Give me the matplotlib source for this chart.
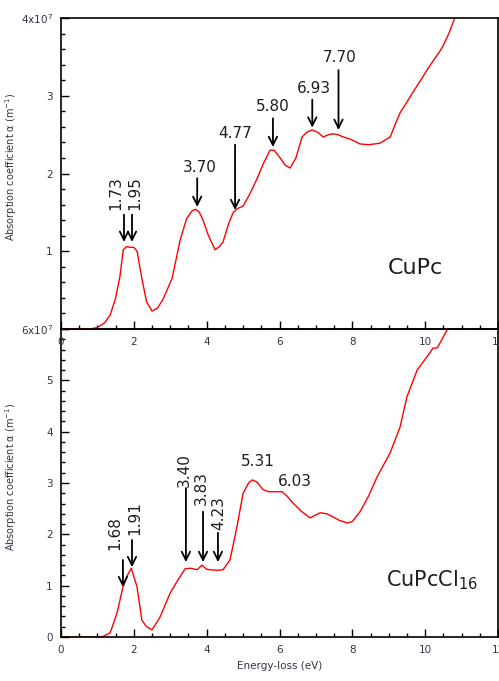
import matplotlib
matplotlib.use("Agg")
import matplotlib.pyplot as plt
from matplotlib.ticker import MultipleLocator, FixedLocator, FixedFormatter

# ---- data: CuPc (top panel), units of 1e7 m^-1 ----
cupc_x = [0, 0.5, 0.8, 1.0, 1.2, 1.35, 1.5, 1.62, 1.71, 1.8, 1.9, 2.0, 2.09, 2.22,
          2.35, 2.5, 2.65, 2.8, 3.05, 3.27, 3.45, 3.6, 3.7, 3.8, 3.9, 4.05, 4.23,
          4.35, 4.45, 4.6, 4.73, 4.85, 5.0, 5.2, 5.38, 5.55, 5.74, 5.85, 6.02, 6.15,
          6.29, 6.45, 6.62, 6.75, 6.9, 7.05, 7.2, 7.35, 7.47, 7.6, 7.75, 7.95, 8.21,
          8.45, 8.76, 9.04, 9.15, 9.31, 9.5, 9.67, 9.85, 10.05, 10.25, 10.4, 10.5,
          10.65, 10.77, 10.9]
cupc_y = [0, 0, 0.0, 0.02, 0.08, 0.18, 0.4, 0.68, 1.02, 1.06, 1.05, 1.05, 1.0, 0.65,
          0.35, 0.23, 0.27, 0.38, 0.65, 1.14, 1.42, 1.52, 1.54, 1.5, 1.40, 1.2, 1.02,
          1.06, 1.12, 1.35, 1.5, 1.55, 1.58, 1.75, 1.93, 2.12, 2.30, 2.3, 2.2, 2.11,
          2.07, 2.2, 2.47, 2.53, 2.56, 2.53, 2.47, 2.5, 2.51, 2.5, 2.47, 2.44, 2.38,
          2.37, 2.39, 2.47, 2.6, 2.78, 2.92, 3.05, 3.18, 3.33, 3.47, 3.57, 3.65,
          3.8, 3.95, 4.1]

# ---- data: CuPcCl16 (bottom panel) ----
cl_x = [0, 0.5, 1.0, 1.15, 1.35, 1.54, 1.70, 1.82, 1.93, 2.09, 2.22, 2.35, 2.5, 2.72,
        3.0, 3.2, 3.41, 3.55, 3.74, 3.87, 4.0, 4.1, 4.3, 4.45, 4.64, 4.83, 5.0, 5.15,
        5.25, 5.38, 5.55, 5.7, 5.82, 6.07, 6.2, 6.37, 6.6, 6.84, 7.0, 7.12, 7.3, 7.47,
        7.65, 7.86, 8.0, 8.21, 8.45, 8.68, 9.04, 9.31, 9.5, 9.78, 10.05, 10.22, 10.33,
        10.5, 10.6, 10.75]
cl_y = [0, 0, 0, 0.01, 0.08, 0.47, 0.97, 1.2, 1.34, 0.97, 0.33, 0.2, 0.14, 0.39,
        0.86, 1.1, 1.33, 1.34, 1.31, 1.40, 1.32, 1.31, 1.30, 1.31, 1.5, 2.14, 2.8, 3.0,
        3.06, 3.02, 2.87, 2.83, 2.83, 2.83, 2.75, 2.61, 2.45, 2.32, 2.38, 2.42, 2.40,
        2.34, 2.27, 2.22, 2.25, 2.44, 2.75, 3.12, 3.59, 4.09, 4.68, 5.20, 5.46, 5.63,
        5.63, 5.85, 5.98, 6.2]

# peak annotations: label, arrow x, tail y, tip y, label x, label y, rotation
top_peaks = [("1.73", 1.73, 1.47, 1.12, 1.51, 1.53, 90),
             ("1.95", 1.95, 1.47, 1.12, 2.03, 1.53, 90),
             ("3.70", 3.74, 1.94, 1.57, 3.82, 1.98, 0),
             ("4.77", 4.78, 2.37, 1.53, 4.78, 2.42, 0),
             ("5.80", 5.82, 2.71, 2.34, 5.82, 2.76, 0),
             ("6.93", 6.90, 2.95, 2.59, 6.95, 3.0, 0),
             ("7.70", 7.62, 3.33, 2.56, 7.66, 3.39, 0)]
bot_peaks = [("1.68", 1.70, 1.50, 0.97, 1.48, 1.70, 90),
             ("1.91", 1.95, 1.89, 1.36, 2.04, 1.99, 90),
             ("3.40", 3.43, 2.90, 1.46, 3.38, 2.92, 90),
             ("3.83", 3.90, 2.44, 1.46, 3.85, 2.57, 90),
             ("4.23", 4.31, 2.03, 1.46, 4.34, 2.09, 90)]
bot_labels = [("5.31", 5.41, 3.41), ("6.03", 6.43, 3.02)]

W, H = 499, 681
fig = plt.figure(figsize=(W / 100, H / 100), dpi=100)
left = 61 / W
width = (498 - 61) / W
ax1 = fig.add_axes([left, 1 - 329 / H, width, (329 - 18) / H])
ax2 = fig.add_axes([left, 1 - 637 / H, width, (637 - 329) / H])
ax1.set_zorder(3)
ax1.patch.set_alpha(0)

tick_col = "#333344"
txt_col = "#1e1e1e"

def style(ax, ymax, ylabels):
    ax.set_xlim(0, 12)
    ax.set_ylim(0, ymax)
    ax.xaxis.set_major_locator(MultipleLocator(2))
    ax.xaxis.set_minor_locator(MultipleLocator(0.5))
    ax.yaxis.set_major_locator(FixedLocator(list(range(ymax + 1))))
    ax.yaxis.set_major_formatter(FixedFormatter(ylabels))
    ax.yaxis.set_minor_locator(MultipleLocator(0.2))
    ax.tick_params(which="both", direction="in", top=False, right=False,
                   labelsize=7.5, labelcolor=tick_col, width=1.0)
    ax.tick_params(which="major", length=6, pad=6)
    ax.tick_params(which="minor", length=3)
    for s in ax.spines.values():
        s.set_linewidth(1.2)
    ax.set_ylabel("Absorption coefficient α (m$^{-1}$)", fontsize=7,
                  color=tick_col)
    ax.yaxis.set_label_coords(-0.095, 0.52)

style(ax1, 4, ["", "1", "2", "3", r"4x10$^7$"])
style(ax2, 6, ["0", "1", "2", "3", "4", "5", r"6x10$^7$"])
ax2.set_xlabel("Energy-loss (eV)", fontsize=7.5, color=tick_col, labelpad=4)

ax1.plot(cupc_x, cupc_y, color="red", lw=1.0)
ax2.plot(cl_x, cl_y, color="red", lw=1.0)

arrow = dict(arrowstyle="->,head_width=0.3,head_length=0.6", lw=1.3, color="black",
             shrinkA=0, shrinkB=0)

def draw_peaks(ax, peaks):
    for lab, xa, yt, yh, lx, ly, rot in peaks:
        ax.annotate("", xy=(xa, yh), xytext=(xa, yt), arrowprops=arrow)
        ax.text(lx, ly, lab, rotation=rot, ha="center", va="bottom",
                fontsize=11, color=txt_col)

draw_peaks(ax1, top_peaks)
draw_peaks(ax2, bot_peaks)
for lab, lx, ly in bot_labels:
    ax2.text(lx, ly, lab, ha="center", va="center", fontsize=11, color=txt_col)

ax1.text(9.73, 0.78, "CuPc", ha="center", va="center", fontsize=16, color=txt_col)
ax2.text(10.2, 1.11, "CuPcCl$_{16}$", ha="center", va="center", fontsize=15,
         color=txt_col)

fig.savefig("out.png", dpi=100)
